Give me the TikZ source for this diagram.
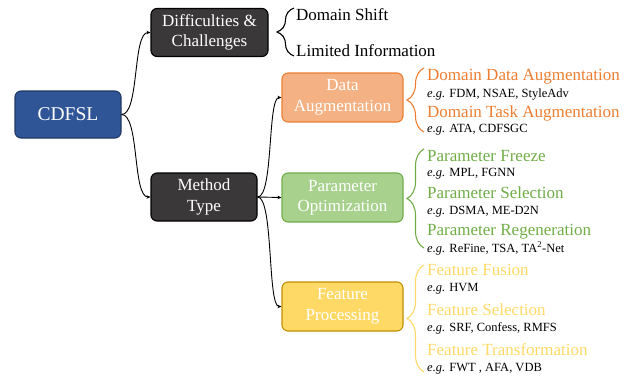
\documentclass[tikz,border=0pt]{standalone}
\usepackage{fontspec}
\setmainfont{Liberation Serif}
\usetikzlibrary{arrows.meta,decorations.pathreplacing}

\definecolor{cdblue}{HTML}{2F5597}
\definecolor{cdblueline}{HTML}{203864}
\definecolor{darkfill}{HTML}{3A3838}
\definecolor{orfill}{HTML}{F4B183}
\definecolor{orline}{HTML}{ED7D31}
\definecolor{grfill}{HTML}{A9D18E}
\definecolor{grline}{HTML}{70AD47}
\definecolor{yefill}{HTML}{FFD966}
\definecolor{yeline}{HTML}{BF9000}
\definecolor{yetext}{HTML}{FFD966}

\tikzset{
  box/.style={rounded corners=6pt, line width=1.1pt, text=white, align=center,
    font=\fontsize{17}{20.5}\selectfont, inner sep=0pt},
  conn/.style={line width=0.9pt, -{Stealth[length=4pt,width=3.5pt]}},
  bracestyle/.style={line width=1.1pt, decorate,
    decoration={brace, amplitude=17pt}},
  cat/.style={anchor=west, inner sep=0pt, font=\fontsize{17}{20}\selectfont},
  ex/.style={anchor=west, inner sep=0pt, font=\fontsize{12.5}{15}\selectfont, text=black},
}

\begin{document}
\begin{tikzpicture}[x=1pt,y=-1pt]
\useasboundingbox (0,0) rectangle (630,380);

% main boxes
\node[box, draw=cdblueline, fill=cdblue, minimum width=106pt, minimum height=47pt,
  font=\fontsize{19.5}{23}\selectfont] (cdfsl) at (68,114.5) {CDFSL};
\node[box, draw=black, fill=darkfill, minimum width=117pt, minimum height=48pt] (dc) at (209.5,32.5) {Difficulties \&\\Challenges};
\node[box, draw=black, fill=darkfill, minimum width=106pt, minimum height=48pt] (mt) at (204,197) {Method\\Type};
\node[box, draw=orline, fill=orfill, minimum width=121pt, minimum height=49pt] (da) at (342.5,97.5) {Data\\Augmentation};
\node[box, draw=grline, fill=grfill, minimum width=121pt, minimum height=49pt] (po) at (342.5,197.5) {Parameter\\Optimization};
\node[box, draw=yeline, fill=yefill, minimum width=121pt, minimum height=49pt] (fp) at (342.5,306.5) {Feature\\Processing};

% connectors
\draw[conn] (cdfsl.east) .. controls +(18,0) and +(-18,0) .. (dc.west);
\draw[conn] (cdfsl.east) .. controls +(18,0) and +(-18,0) .. (mt.west);
\draw[conn] (mt.east) .. controls +(16,0) and +(-14,0) .. (da.west);
\draw[conn] (mt.east) -- (po.west);
\draw[conn] (mt.east) .. controls +(16,0) and +(-14,0) .. (fp.west);

% difficulties
\coordinate (dcbt) at (294,56);
\coordinate (dcbb) at (294,8);
\draw[bracestyle, draw=black] (dcbt) -- (dcbb);
\node[cat] (ds) at (296,15) {Domain Shift};
\node[cat] (li) at (296,51) {Limited Information};

% data augmentation branch
\coordinate (dat) at (424,132);
\coordinate (dab) at (424,68);
\draw[bracestyle, draw=orline] (dat) -- (dab);
\node[cat, text=orline] (dda) at (427,77) {Domain Data Augmentation};
\node[ex] (dda-e) at (427,94.5) {\textit{e.g.} FDM, NSAE, StyleAdv};
\node[cat, text=orline] (dta) at (427,113) {Domain Task Augmentation};
\node[ex] (dta-e) at (427,130) {\textit{e.g.} ATA, CDFSGC};

% parameter optimization branch
\coordinate (pot) at (424,248);
\coordinate (pob) at (424,149);
\draw[bracestyle, draw=grline] (pot) -- (pob);
\node[cat, text=grline] (pf) at (427,156) {Parameter Freeze};
\node[ex] (pf-e) at (427,173.5) {\textit{e.g.} MPL, FGNN};
\node[cat, text=grline] (ps) at (427,193) {Parameter Selection};
\node[ex] (ps-e) at (427,212) {\textit{e.g.} DSMA, ME-D2N};
\node[cat, text=grline] (pr) at (427,232) {Parameter Regeneration};
\node[ex] (pr-e) at (427,248.5) {\textit{e.g.} ReFine, TSA, TA\textsuperscript{2}-Net};

% feature processing branch
\coordinate (fpt) at (424,372);
\coordinate (fpb) at (424,265);
\draw[bracestyle, draw=yetext] (fpt) -- (fpb);
\node[cat, text=yetext] (ff) at (427,270) {Feature Fusion};
\node[ex] (ff-e) at (427,288.5) {\textit{e.g.} HVM};
\node[cat, text=yetext] (fs) at (427,310) {Feature Selection};
\node[ex] (fs-e) at (427,328.5) {\textit{e.g.} SRF, Confess, RMFS};
\node[cat, text=yetext] (ft) at (427,350) {Feature Transformation};
\node[ex] (ft-e) at (427,368.5) {\textit{e.g.} FWT , AFA, VDB};
\end{tikzpicture}
\end{document}
